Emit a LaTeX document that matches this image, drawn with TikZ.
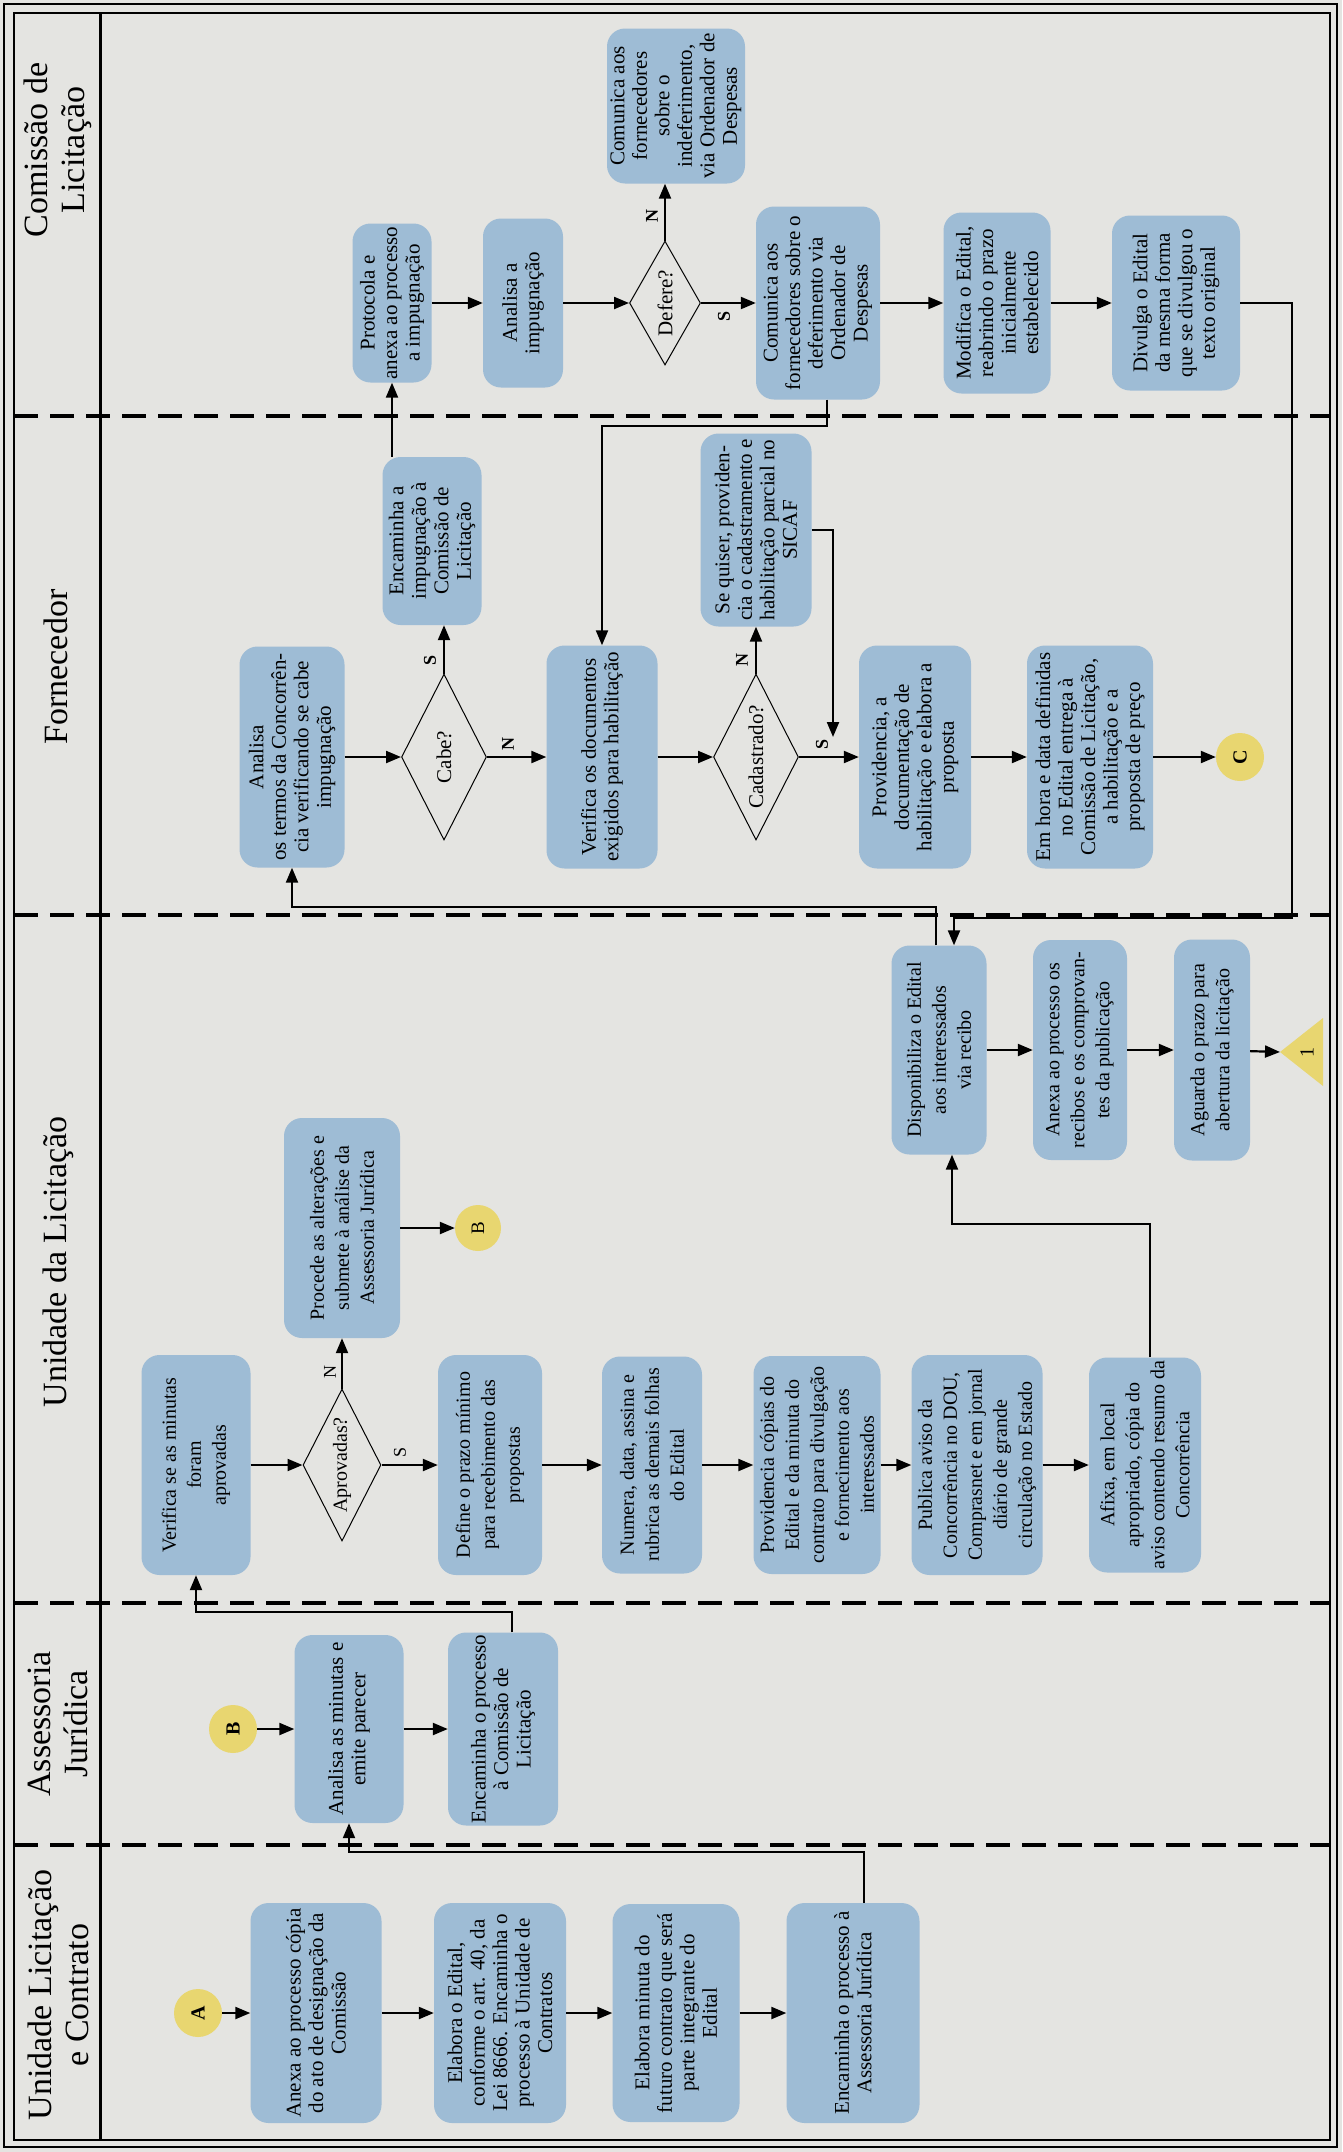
\documentclass[tikz,border=0pt]{standalone}
\usepackage{fontspec}
\setmainfont{Liberation Serif}
\usetikzlibrary{shapes.geometric,arrows.meta,calc}
\definecolor{bg}{HTML}{E4E4E1}
\definecolor{boxblue}{HTML}{9EBCD5}
\definecolor{yel}{HTML}{E8D670}
\newcommand\FntA{\fontsize{21}{22.5}\selectfont}
\newcommand\FntB{\fontsize{20}{25}\selectfont}
\newcommand\FntH{\fontsize{34}{37}\selectfont}
\newcommand\FntL{\fontsize{18}{18}\selectfont\bfseries}
\begin{document}
\begin{tikzpicture}[x=1pt,y=-1pt,
 boxA/.style={rounded corners=18pt, fill=boxblue, rotate=90, align=center, inner sep=1pt, font=\FntA},
 boxB/.style={boxA, font=\FntB},
 dia/.style={diamond, aspect=2, draw, line width=1pt, fill=bg, rotate=90, inner sep=0pt, font=\FntA},
 conn/.style={circle, fill=yel, minimum size=48pt, inner sep=0pt, rotate=90, font=\fontsize{20}{20}\selectfont\bfseries},
 arr/.style={line width=2.2pt, -{Triangle[length=15pt,width=12pt]}},
 lane/.style={line width=3.5pt, dash pattern=on 24pt off 12pt},
 hdr/.style={rotate=90, align=center, font=\FntH},
 lbl/.style={rotate=90, font=\FntL, inner sep=0pt}]
\useasboundingbox (0,0) rectangle (1342,2152);
\fill[bg] (0,0) rectangle (1342,2152);
% frame
\draw[line width=2pt] (4,4) rectangle (1337,2147);
\draw[line width=2pt] (14,13) rectangle (1330,2140);
\draw[line width=3pt] (100,13) -- (100,2140);
\draw[lane] (14,416) -- (1330,416);
\draw[lane] (14,915) -- (1330,915);
\draw[lane] (14,1603) -- (1330,1603);
\draw[lane] (14,1845) -- (1330,1845);
% headers
\node[hdr] (hCom) at (58,150) {Comissão de\\Licitação};
\node[hdr] (hFor) at (56,667) {Fornecedor};
\node[hdr] (hUL) at (58,1262) {Unidade da Licitação};
\node[hdr] (hAss) at (58,1724) {Assessoria\\Jurídica};
\node[hdr] (hULC) at (58,1995) {Unidade Licitação\\e Contrato};

% ---- Unidade Licitacao e Contrato
\node[conn] (A) at (198,2013) {A};
\node[boxA, minimum width=220pt, minimum height=131pt] (anexa1) at (316,2013) {Anexa ao processo cópia\\do ato de designação da\\Comissão};
\node[boxA, minimum width=220pt, minimum height=132pt] (elabed) at (500,2013) {Elabora o Edital,\\conforme o art. 40, da\\Lei 8666. Encaminha o\\processo à Unidade de\\Contratos};
\node[boxA, minimum width=218pt, minimum height=127pt] (elabmin) at (676,2013) {Elabora minuta do\\futuro contrato que será\\parte integrante do\\Edital};
\node[boxA, minimum width=220pt, minimum height=133pt] (encass) at (853,2013) {Encaminha o processo à\\Assessoria Jurídica};

% ---- Assessoria Juridica
\node[conn] (B1) at (233,1729) {B};
\node[boxA, minimum width=188pt, minimum height=109pt] (anmin) at (349,1729) {Analisa as minutas e\\emite parecer};
\node[boxA, minimum width=193pt, minimum height=110pt] (encproc) at (503,1729) {Encaminha o processo\\à Comissão de\\Licitação};

% ---- Unidade da Licitacao
\node[boxB, minimum width=220pt, minimum height=109pt] (verif) at (196,1465) {Verifica se as minutas\\foram\\aprovadas};
\node[dia, font=\FntB, minimum width=152pt, minimum height=78pt] (aprov) at (342,1465) {Aprovadas?};
\node[boxB, minimum width=220pt, minimum height=116pt] (procede) at (342,1228) {Procede as alterações e\\submete à análise da\\Assessoria Jurídica};
\node[conn, minimum size=46pt, font=\fontsize{19}{19}\selectfont] (B2) at (478,1228) {B};
\node[boxB, minimum width=220pt, minimum height=104pt] (define) at (490,1465) {Define o prazo mínimo\\para recebimento das\\propostas};
\node[boxB, minimum width=217pt, minimum height=100pt] (numera) at (652,1465) {Numera, data, assina e\\rubrica as demais folhas\\do Edital};
\node[boxB, minimum width=218pt, minimum height=127pt] (provcop) at (817,1465) {Providencia cópias do\\Edital e da minuta do\\contrato para divulgação\\e fornecimento aos\\interessados};
\node[boxB, minimum width=220pt, minimum height=131pt] (publica) at (977,1465) {Publica aviso da\\Concorrência no DOU,\\Comprasnet e em jornal\\diário de grande\\circulação no Estado};
\node[boxB, minimum width=215pt, minimum height=112pt] (afixa) at (1145,1465) {Afixa, em local\\apropriado, cópia do\\aviso contendo resumo da\\Concorrência};
\node[boxB, minimum width=209pt, minimum height=95pt] (dispo) at (939,1050) {Disponibiliza o Edital\\aos interessados\\via recibo};
\node[boxB, minimum width=220pt, minimum height=94pt] (anexrec) at (1080,1050) {Anexa ao processo os\\recibos e os comprovan-\\tes da publicação};
\node[boxB, minimum width=221pt, minimum height=76pt] (aguarda) at (1212,1050) {Aguarda o prazo para\\abertura da licitação};
\coordinate (t1apex) at (1280,1052);
\fill[yel] (t1apex) -- (1323,1018) -- (1323,1086) -- cycle;
\node[rotate=90, font=\FntB] (t1) at (1307,1052) {1};

% ---- Fornecedor
\node[boxA, minimum width=221pt, minimum height=105pt] (anterm) at (292,757) {Analisa\\os termos da Concorrên-\\cia verificando se cabe\\impugnação};
\node[dia, minimum width=166pt, minimum height=85pt] (cabe) at (444,757) {Cabe?};
\node[boxA, minimum width=168pt, minimum height=99pt] (encimp) at (432,541) {Encaminha a\\impugnação à\\Comissão de\\Licitação};
\node[boxA, minimum width=223pt, minimum height=111pt] (verdoc) at (602,757) {Verifica os documentos\\exigidos para habilitação};
\node[dia, minimum width=166pt, minimum height=85pt] (cad) at (756,757) {Cadastrado?};
\node[boxA, minimum width=193pt, minimum height=111pt] (sequiser) at (756,530) {Se quiser, providen-\\cia o cadastramento e\\habilitação parcial no\\SICAF};
\node[boxA, minimum width=223pt, minimum height=112pt] (provdoc) at (915,757) {Providencia, a\\documentação de\\habilitação e elabora a\\proposta};
\node[boxA, minimum width=223pt, minimum height=126pt] (emhora) at (1090,757) {Em hora e data definidas\\no Edital entrega à\\Comissão de Licitação,\\a habilitação e a\\proposta de preço};
\node[conn] (C) at (1240,757) {C};
\coordinate (sqend) at (833,737);

% ---- Comissao de Licitacao
\node[boxA, minimum width=159pt, minimum height=79pt] (protoc) at (392,303) {Protocola e\\anexa ao processo\\a impugnação};
\node[boxA, minimum width=169pt, minimum height=80pt] (anaimp) at (523,303) {Analisa a\\impugnação};
\node[dia, minimum width=124pt, minimum height=71pt] (defere) at (665,303) {Defere?};
\node[boxA, minimum width=155pt, minimum height=138pt] (indef) at (676,106) {Comunica aos\\fornecedores\\sobre o\\indeferimento,\\via Ordenador de\\Despesas};
\node[boxA, minimum width=193pt, minimum height=124pt] (defer) at (818,303) {Comunica aos\\fornecedores sobre o\\deferimento via\\Ordenador de\\Despesas};
\node[boxA, minimum width=181pt, minimum height=107pt] (modif) at (997,303) {Modifica o Edital,\\reabrindo o prazo\\inicialmente\\estabelecido};
\node[boxA, minimum width=175pt, minimum height=128pt] (divulga) at (1176,303) {Divulga o Edital\\da mesma forma\\que se divulgou o\\texto original};
\coordinate (rtc) at (1292,918);

% ---- labels
\node[lbl] (nDef) at (652,216) {N};
\node[lbl] (sDef) at (724,316) {S};
\node[lbl] (sCabe) at (430,660) {S};
\node[lbl] (nCabe) at (508,744) {N};
\node[lbl] (nCad) at (742,660) {N};
\node[lbl] (sCad) at (822,744) {S};
\node[lbl, font=\fontsize{18}{18}\selectfont] (nAp) at (330,1372) {N};
\node[lbl, font=\fontsize{18}{18}\selectfont] (sAp) at (400,1452) {S};

% ---- connectors
\draw[arr] (A) -- (anexa1);
\draw[arr] (anexa1) -- (elabed);
\draw[arr] (elabed) -- (elabmin);
\draw[arr] (elabmin) -- (encass);
\draw[arr] ([xshift=11pt]encass.east) -- ++(0,-51) -| (anmin.west);
\draw[arr] (B1) -- (anmin);
\draw[arr] (anmin) -- (encproc);
\draw[arr] ([xshift=9pt]encproc.east) -- ++(0,-20) -| (verif.west);
\draw[arr] (verif) -- (aprov);
\draw[arr] (aprov) -- (procede);
\draw[arr] (procede) -- (B2);
\draw[arr] (aprov) -- (define);
\draw[arr] (define) -- (numera);
\draw[arr] (numera) -- (provcop);
\draw[arr] (provcop) -- (publica);
\draw[arr] (publica) -- (afixa);
\draw[arr] ([xshift=5pt]afixa.east) -- ++(0,-133) -| ([xshift=13pt]dispo.west);
\draw[arr] (dispo) -- (anexrec);
\draw[arr] (anexrec) -- (aguarda);
\draw[arr] (aguarda) -- (t1apex);
\draw[arr] ([xshift=-3pt]dispo.east) -- ++(0,-38) -| (anterm.west);
\draw[arr] (anterm) -- (cabe);
\draw[arr] (cabe.east) -- (cabe.east |- encimp.west);
\draw[arr] (cabe) -- (verdoc);
\draw[arr] (verdoc) -- (cad);
\draw[arr] (cad) -- (sequiser);
\draw[arr] (cad) -- (provdoc);
\draw[arr] (sequiser.south) -| (sqend);
\draw[arr] (provdoc) -- (emhora);
\draw[arr] (emhora) -- (C);
\draw[arr] (encimp.east -| protoc.west) -- (protoc.west);
\draw[arr] (protoc) -- (anaimp);
\draw[arr] (anaimp) -- (defere);
\draw[arr] (defere.east) -- (defere.east |- indef.west);
\draw[arr] (defere) -- (defer);
\draw[arr] (defer) -- (modif);
\draw[arr] (modif) -- (divulga);
\draw[arr] ([xshift=9pt]defer.west) -- ++(0,26) -| (verdoc.east);
\draw[arr] (divulga.south) -| (rtc) -| ([xshift=15pt]dispo.east);
\end{tikzpicture}
\end{document}
